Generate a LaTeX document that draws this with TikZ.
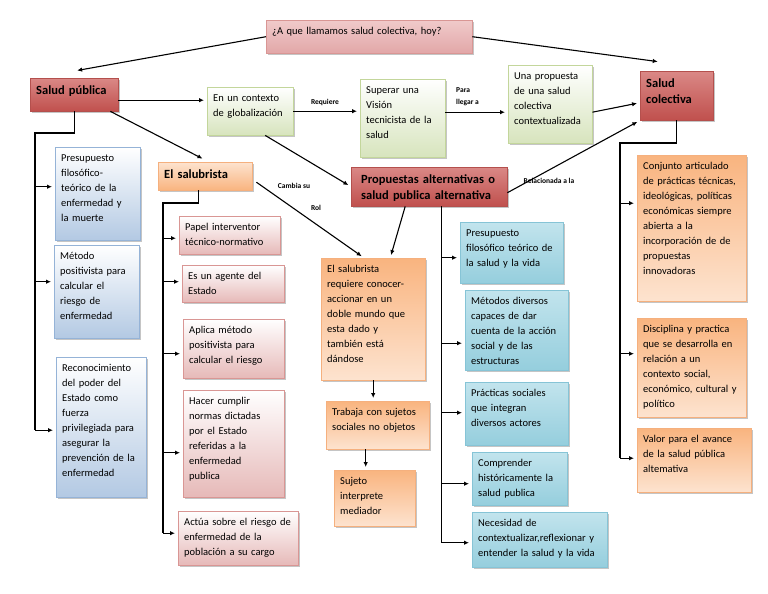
\documentclass[tikz,border=0pt]{standalone}
\usepackage{fontspec}
\setmainfont{Carlito}
\usetikzlibrary{arrows.meta,shadows}

\definecolor{redtop}{HTML}{DA8886}
\definecolor{redbot}{HTML}{C0504D}
\definecolor{redline}{HTML}{B4504D}
\definecolor{qtop}{HTML}{F0CACA}
\definecolor{qbot}{HTML}{E2A7A8}
\definecolor{greenbot}{HTML}{D7E4BD}
\definecolor{greenline}{HTML}{C3D69B}
\definecolor{bluebot}{HTML}{B3C9E3}
\definecolor{blueline}{HTML}{95B3D7}
\definecolor{pinkbot}{HTML}{E6B9B8}
\definecolor{pinkline}{HTML}{D99694}
\definecolor{orangetop}{HTML}{F9B47F}
\definecolor{orangebot}{HTML}{FDE3CF}
\definecolor{orangeline}{HTML}{F5B07E}
\definecolor{cyantop}{HTML}{C2E4ED}
\definecolor{cyanbot}{HTML}{95CEDD}
\definecolor{cyanline}{HTML}{86C4D6}

\tikzset{
  box/.style={draw, anchor=north west, align=left, inner xsep=6pt, inner ysep=4pt,
    text height=10pt, font=\fontsize{10.5}{15}\selectfont,
    drop shadow={shadow xshift=1.5pt, shadow yshift=-1.5pt, fill=black!45, opacity=0.5}},
  sz/.style 2 args={text width=#1, text depth=#2},
  rtitle/.style={box, text height=12pt, font=\fontsize{12.5}{16}\selectfont\bfseries,
    top color=redtop, bottom color=redbot, draw=redline},
  otitle/.style={box, text height=12pt, font=\fontsize{12.5}{16}\selectfont\bfseries,
    top color=orangebot, bottom color=orangetop, draw=orangeline},
  qbox/.style={box, top color=qtop, bottom color=qbot, draw=pinkline},
  gbox/.style={box, top color=white, bottom color=greenbot, draw=greenline},
  bbox/.style={box, top color=white, bottom color=bluebot, draw=blueline},
  pbox/.style={box, top color=white, bottom color=pinkbot, draw=pinkline},
  obox/.style={box, top color=orangetop, bottom color=orangebot, draw=orangeline},
  cbox/.style={box, top color=cyantop, bottom color=cyanbot, draw=cyanline},
  link/.style={draw, line width=1.1pt},
  arr/.style={link, shorten >=3pt, -{Latex[length=5pt,width=4.5pt]}},
  lbl/.style={inner sep=0pt, align=left, font=\fontsize{7.5}{12}\selectfont\bfseries}
}

\begin{document}
\begin{tikzpicture}[x=1pt, y=-1pt]

    \fill[white] (0,0) rectangle (768,594);
    \useasboundingbox (0,0) rectangle (768,594);

    % Question on top
    \node[qbox, sz={194pt}{15pt}] (q) at (266,20) {¿A que llamamos salud colectiva, hoy?};

    % Top row
    \node[rtitle, sz={76pt}{13pt}] (sp) at (30,78) {Salud pública};
    \node[gbox, sz={74pt}{30pt}] (ctx) at (207,87) {En un contexto\\de globalización};
    \node[gbox, sz={73pt}{60pt}] (sup) at (360,79) {Superar una\\Visión\\tecnicista de la\\salud};
    \node[gbox, sz={72pt}{60pt}] (una) at (508,65) {Una propuesta\\de una salud\\colectiva\\contextualizada};
    \node[rtitle, sz={61pt}{29pt}] (sc) at (640,71) {Salud\\colectiva};

    % Second level titles
    \node[otitle, sz={82pt}{8pt}] (sb) at (158,162) {El salubrista};
    \node[rtitle, inner xsep=10pt, sz={136pt}{19pt}] (pa) at (351,167) {Propuestas alternativas o\\salud publica alternativa};

    % Salud publica column
    \node[bbox, sz={73pt}{75pt}] (b1) at (55,147) {Presupuesto\\filosófico-\\teórico de la\\enfermedad y\\la muerte};
    \node[bbox, sz={73pt}{75pt}] (b2) at (54,245) {Método\\positivista para\\calcular el\\riesgo de\\enfermedad};
    \node[bbox, sz={78pt}{122pt}] (b3) at (56,357) {Reconocimiento\\del poder del\\Estado como\\fuerza\\privilegiada para\\asegurar la\\prevención de la\\enfermedad};

    % El salubrista column
    \node[pbox, sz={89pt}{20pt}] (p1) at (179,216) {Papel interventor\\técnico-normativo};
    \node[pbox, sz={90pt}{19pt}] (p2) at (182,265) {Es un agente del\\Estado};
    \node[pbox, sz={89pt}{41pt}] (p3) at (183,319) {Aplica método\\positivista para\\calcular el riesgo};
    \node[pbox, sz={89pt}{89pt}] (p4) at (183,390) {Hacer cumplir\\normas dictadas\\por el Estado\\referidas a la\\enfermedad\\publica};
    \node[pbox, sz={108pt}{36pt}] (p5) at (178,511) {Actúa sobre el riesgo de\\enfermedad de la\\población a su cargo};

    % Middle orange chain
    \node[obox, sz={92pt}{104pt}] (m1) at (321,258) {El salubrista\\requiere conocer-\\accionar en un\\doble mundo que\\esta dado y\\también está\\dándose};
    \node[obox, sz={91pt}{30pt}] (m2) at (326,401) {Trabaja con sujetos\\sociales no objetos};
    \node[obox, sz={69pt}{38pt}] (m3) at (334,470) {Sujeto\\interprete\\mediador};

    % Propuestas column
    \node[cbox, sz={91pt}{43pt}] (c1) at (460,222) {Presupuesto\\filosófico teórico de\\la salud y la vida};
    \node[cbox, sz={91pt}{62pt}] (c2) at (465,290) {Métodos diversos\\capaces de dar\\cuenta de la acción\\social y de las\\estructuras};
    \node[cbox, sz={91pt}{45pt}] (c3) at (465,382) {Prácticas sociales\\que integran\\diversos actores};
    \node[cbox, sz={83pt}{35pt}] (c4) at (472,452) {Comprender\\históricamente la\\salud publica};
    \node[cbox, sz={123pt}{37pt}] (c5) at (472,512) {Necesidad de\\contextualizar,reflexionar y\\entender la salud y la vida};

    % Salud colectiva column
    \node[obox, sz={97pt}{128pt}] (r1) at (637,155) {Conjunto articulado\\de prácticas técnicas,\\ideológicas, políticas\\económicas siempre\\abierta a la\\incorporación de de\\propuestas\\innovadoras};
    \node[obox, sz={97pt}{81pt}] (r2) at (637,318) {Disciplina y practica\\que se desarrolla en\\relación a un\\contexto social,\\económico, cultural y\\político};
    \node[obox, sz={102pt}{46pt}] (r3) at (637,428) {Valor para el avance\\de la salud pública\\altemativa};

    % Small labels
    \node[lbl] (lreq) at (325,102) {Requiere};
    \node[lbl, anchor=west] (lpara) at (456,97) {Para\\llegar a};
    \node[lbl] (lcam) at (294,186) {Cambia su};
    \node[lbl] (lrol) at (316,208) {Rol};
    \node[lbl] (lrel) at (549,181) {Relacionada a la};

    % Arrows of the top part
    \draw[arr] (q.west) -- ([yshift=7pt]sp.north);
    \draw[arr] (q.east) -- ([xshift=-16pt, yshift=9pt]sc.north);
    \draw[arr] ([yshift=-5.5pt]sp.east) -- ([yshift=11pt]ctx.west);
    \draw[arr] (ctx.east) -- (ctx.east -| sup.west);
    \draw[arr] ([yshift=6pt]sup.east) -- ([yshift=6pt]sup.east -| una.west);
    \draw[arr] ([yshift=-8pt]una.east) -- ([yshift=-7pt]sc.west);
    \draw[arr] ([xshift=-8pt]sp.south east) -- ([yshift=2pt]sb.north);
    \draw[arr] ([xshift=15pt]ctx.south) -- (pa.west);
    \draw[arr] ([yshift=-6pt]pa.east) -- (sc.south west);
    \draw[arr] ([shift={(4pt,-6pt)}]sb.east) -- ([xshift=-9pt]m1.north);
    \draw[arr] ([xshift=-24pt]pa.south) -- ([xshift=17pt]m1.north);
    \draw[arr] (m1.south) -- (m1.south |- m2.north);
    \draw[arr] ([xshift=-12pt]m2.south) -- ([xshift=-12pt]m2.south |- m3.north);

    % Salud publica tree
    \coordinate (spA) at (35,133);
    \foreach \n/\d in {b1/7,b2/10,b3/-3} {
        \path ([yshift=\d pt]\n.west) coordinate (\n t);
        \draw[arr] (spA |- \n t) -- (\n t);
    }
    \draw[link] (sp.south) |- (spA) -- (spA |- b3t);

    % El salubrista tree
    \coordinate (sbA) at (163,203);
    \foreach \n/\d in {p1/-3,p2/2,p3/-5,p4/-9,p5/5} {
        \path ([yshift=\d pt]\n.west) coordinate (\n t);
        \draw[arr] (sbA |- \n t) -- (\n t);
    }
    \draw[link] ([xshift=-7pt]sb.south) |- (sbA) -- (sbA |- p5t);

    % Propuestas tree
    \coordinate (paA) at ([xshift=12pt]pa.south);
    \foreach \n/\d in {c1/-5,c2/-13,c3/1,c4/-5,c5/-3} {
        \path ([yshift=\d pt]\n.west) coordinate (\n t);
        \draw[arr] (paA |- \n t) -- (\n t);
    }
    \draw[link] (paA) -- (paA |- c5t);

    % Salud colectiva tree
    \coordinate (scA) at (620,143);
    \foreach \n/\d in {r1/25,r2/14,r3/2} {
        \path ([yshift=\d pt]\n.west) coordinate (\n t);
        \draw[arr] (scA |- \n t) -- (\n t);
    }
    \draw[link] (sc.south) |- (scA) -- (scA |- r3t);

\end{tikzpicture}
\end{document}
